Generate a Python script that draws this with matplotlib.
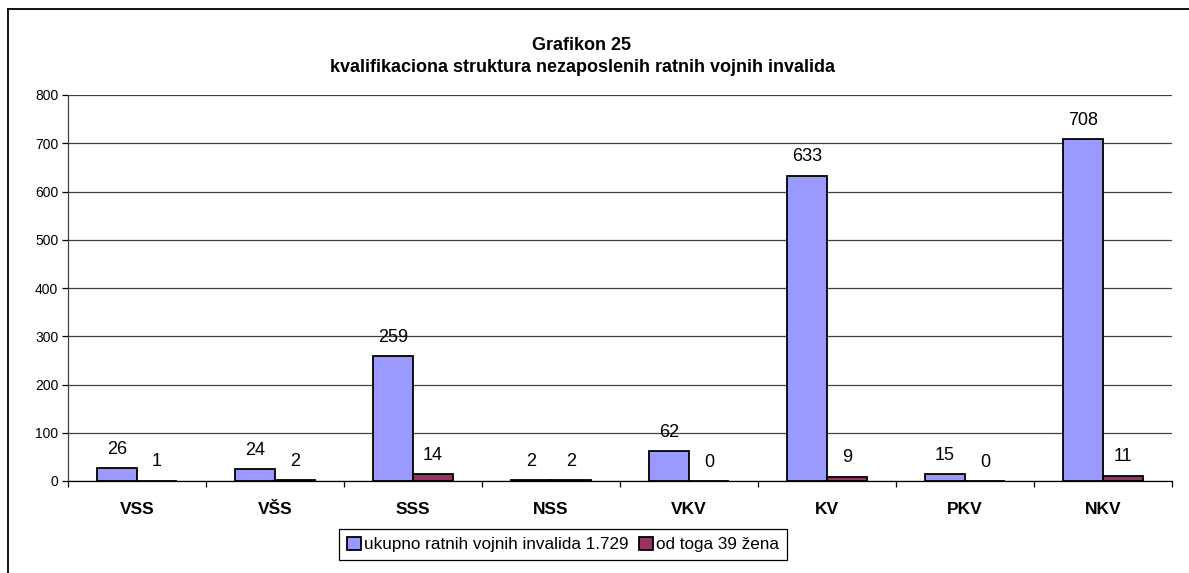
import matplotlib
matplotlib.use("Agg")
import matplotlib.pyplot as plt
from matplotlib.lines import Line2D
import numpy as np

plt.rcParams['font.family'] = ['Liberation Sans', 'DejaVu Sans']

categories = ["VSS", "VŠS", "SSS", "NSS", "VKV", "KV", "PKV", "NKV"]
ukupno = [26, 24, 259, 2, 62, 633, 15, 708]
zene = [1, 2, 14, 2, 0, 9, 0, 11]
series_names = ["ukupno ratnih vojnih invalida 1.729", "od toga 39 žena"]
colors = ["#9999FF", "#993366"]
yticks = list(range(0, 801, 100))
title = "Grafikon 25\nkvalifikaciona struktura nezaposlenih ratnih vojnih invalida"

fig = plt.figure(figsize=(11.89, 5.73), dpi=100)
ax = fig.add_axes([68/1189, 1-481/573, (1172-68)/1189, (481-95)/573])

x = np.arange(len(categories))
w = 0.29
b1 = ax.bar(x - w/2, ukupno, w, color=colors[0], edgecolor="black", linewidth=1.3,
            label=series_names[0], zorder=3)
b2 = ax.bar(x + w/2, zene, w, color=colors[1], edgecolor="black", linewidth=1.3,
            label=series_names[1], zorder=3)

for bars, vals in ((b1, ukupno), (b2, zene)):
    for r, v in zip(bars, vals):
        ax.annotate(str(v), (r.get_x() + r.get_width()/2, v), xytext=(0, 13.5),
                    textcoords="offset points", ha="center", va="center", fontsize=13)

ax.set_xlim(-0.5, len(categories) - 0.5)
ax.set_ylim(0, 800)
ax.set_yticks(yticks)
ax.set_yticklabels([str(t) for t in yticks], fontsize=10)
ax.yaxis.grid(True, color="#404040", linewidth=0.9, zorder=0)
ax.set_axisbelow(True)

ax.set_xticks(np.arange(-0.5, len(categories), 1.0))
ax.set_xticklabels([])
ax.set_xticks(x, minor=True)
ax.set_xticklabels(categories, minor=True, fontsize=12.5, fontweight="bold")
ax.tick_params(axis="x", which="major", length=4, width=0.9, direction="out")
ax.tick_params(axis="x", which="minor", length=0, pad=15)
ax.tick_params(axis="y", length=4, width=0.9, direction="out", pad=3)

for s in ("top", "right"):
    ax.spines[s].set_visible(False)
ax.spines["left"].set_color("#404040")
ax.spines["left"].set_linewidth(0.9)
ax.spines["bottom"].set_color("black")
ax.spines["bottom"].set_linewidth(0.9)

fig.text(582/1189, 1-45/573, "Grafikon 25", ha="center", va="center",
         fontsize=13, fontweight="bold")
fig.text(582/1189, 1-68/573, "kvalifikaciona struktura nezaposlenih ratnih vojnih invalida",
         ha="center", va="center", fontsize=13, fontweight="bold")

leg = fig.legend(handles=[b1, b2], labels=series_names, loc="center",
                 bbox_to_anchor=(563/1189, 1-544.5/573), ncol=2, fontsize=12.3,
                 frameon=True, fancybox=False, edgecolor="black", framealpha=1,
                 handlelength=0.8, handleheight=0.8, handletextpad=0.2,
                 columnspacing=0.6, borderpad=0.45, borderaxespad=0)
leg.get_frame().set_linewidth(0.9)

# chart frame (left and top edges visible)
fig.add_artist(Line2D([8/1189, 8/1189], [0, 1-9/573], color="black", linewidth=1.3,
                      transform=fig.transFigure))
fig.add_artist(Line2D([8/1189, 1], [1-9/573, 1-9/573], color="black", linewidth=1.3,
                      transform=fig.transFigure))

fig.savefig("out.png", dpi=100)
